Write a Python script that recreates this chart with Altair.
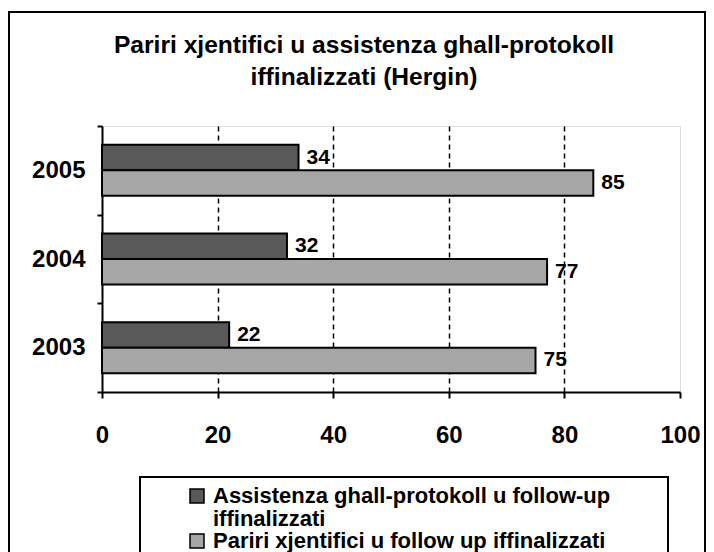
import altair as alt
import pandas as pd

years = ["2005", "2004", "2003"]
assistenza = [34, 32, 22]
pariri = [85, 77, 75]
series = ["Assistenza ghall-protokoll u follow-up iffinalizzati",
          "Pariri xjentifici u follow up  iffinalizzati"]
colors = ["#595959", "#a6a6a6"]
x_ticks = [0, 20, 40, 60, 80, 100]
title_lines = ["Pariri xjentifici u assistenza ghall-protokoll", "iffinalizzati (Hergin)"]

rows = []
for i, yr in enumerate(years):
    rows.append({"year": yr, "series": series[0], "value": assistenza[i]})
    rows.append({"year": yr, "series": series[1], "value": pariri[i]})
df = pd.DataFrame(rows)

FONT = "Liberation Sans"

y_enc = alt.Y(
    "year:N", sort=years,
    scale=alt.Scale(paddingInner=0, paddingOuter=0),
    axis=alt.Axis(title=None, tickBand="extent", ticks=True, tickSize=5,
                  tickColor="black", tickWidth=2, domainColor="black",
                  domainWidth=2, labelFont=FONT, labelFontSize=24,
                  labelFontWeight="bold", labelColor="black",
                  labelPadding=12, grid=False),
)
yoff = alt.YOffset("series:N", sort=series,
                   scale=alt.Scale(paddingInner=0, paddingOuter=0.74))
x_enc = alt.X(
    "value:Q",
    scale=alt.Scale(domain=[0, 100], nice=False),
    axis=alt.Axis(title=None, values=x_ticks, tickSize=6, tickColor="black",
                  tickWidth=2, domainColor="black", domainWidth=2,
                  labelFont=FONT, labelFontSize=24, labelFontWeight="bold",
                  labelColor="black", labelPadding=25, labelFlush=False,
                  grid=True, gridDash=[5, 4], gridWidth=1.5,
                  gridColor={"condition": {"test": "datum.value == 0 || datum.value == 100",
                                           "value": "transparent"},
                             "value": "black"}),
)
color = alt.Color(
    "series:N", sort=series,
    scale=alt.Scale(domain=series, range=colors),
    legend=alt.Legend(
        title=None, orient="none", legendX=84, legendY=359, padding=0,
        symbolType="square", symbolSize=196, symbolStrokeColor="black",
        symbolStrokeWidth=1.5, labelFont=FONT, labelFontSize=22,
        labelFontWeight="bold", labelColor="black", labelLimit=700,
        labelOffset=5, rowPadding=0,
        labelExpr="datum.label == 'Assistenza ghall-protokoll u follow-up iffinalizzati' ? ['Assistenza ghall-protokoll u follow-up', 'iffinalizzati'] : datum.label",
    ),
)

frame = alt.Chart(alt.Data(values=[{}])).mark_rect(
    fill="transparent", stroke="black", strokeWidth=2
).encode(x=alt.value(-93), x2=alt.value(603), y=alt.value(-114), y2=alt.value(460))

legend_box = alt.Chart(alt.Data(values=[{}])).mark_rect(
    fill="transparent", stroke="black", strokeWidth=2
).encode(x=alt.value(38), x2=alt.value(566), y=alt.value(351), y2=alt.value(470))

bars = alt.Chart(df).mark_bar(stroke="black", strokeWidth=2).encode(
    x=x_enc, y=y_enc, yOffset=yoff, color=color
)
labels = alt.Chart(df).mark_text(
    align="left", baseline="middle", dx=8, font=FONT, fontSize=21,
    fontWeight="bold", color="black"
).encode(x=alt.X("value:Q"), y=alt.Y("year:N", sort=years), yOffset=alt.YOffset("series:N", sort=series),
         text="value:Q")

chart = alt.layer(frame, legend_box, bars, labels).properties(
    width=578, height=266,
    autosize=alt.AutoSizeParams(type="none"),
    padding={"left": 94, "top": 118, "right": 26, "bottom": 160},
    title=alt.TitleParams(text=title_lines, font=FONT, fontSize=24.6,
                          fontWeight="bold", color="black", anchor="middle",
                          frame="group", dx=-27, offset=-80, lineHeight=32),
).configure_view(stroke="#808080", strokeWidth=1.5).configure(
    background="white", style={"guide-label": {"lineHeight": 23}}
)

chart.save("out.html", embed_options={"renderer": "svg", "actions": False})
